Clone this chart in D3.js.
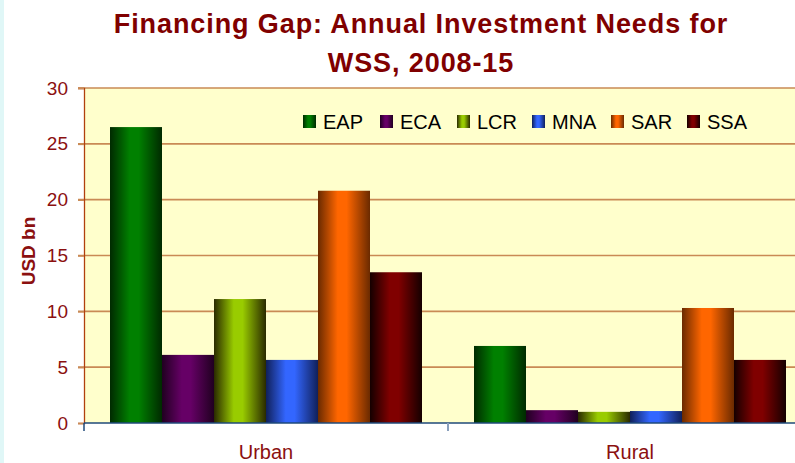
<!DOCTYPE html>
<html>
<head>
<meta charset="utf-8">
<script src="https://cdn.jsdelivr.net/npm/d3@7"></script>
<style>
  body { margin: 0; background: #ffffff; }
  svg { display: block; font-family: "Liberation Sans", Arial, sans-serif; }
</style>
</head>
<body>
<div id="chart"></div>
<script>
// categories and series
var categories = ["Urban", "Rural"];
var series = ["EAP", "ECA", "LCR", "MNA", "SAR", "SSA"];
var urbanValues = [26.5, 6.1, 11.1, 5.65, 20.8, 13.5];
var ruralValues = [6.9, 1.15, 1.0, 1.07, 10.3, 5.65];
var yTicks = [0, 5, 10, 15, 20, 25, 30];

// bar colours: [edge, centre]
var barColors = {
  EAP: ["#002a00", "#008000"],
  ECA: ["#200020", "#660066"],
  LCR: ["#2a2a00", "#99cc00"],
  MNA: ["#10205a", "#3366ff"],
  SAR: ["#6a2a00", "#ff6600"],
  SSA: ["#150000", "#800000"]
};

var rows = categories.map(function(c, i) {
  var vals = i === 0 ? urbanValues : ruralValues;
  return { cat: c, values: series.map(function(s, j) { return { key: s, value: vals[j] }; }) };
});

var svgWidth = 795, svgHeight = 463;
var margin = { top: 88, left: 84 };
var plotRight = 812; // plot runs past the window edge

var svg = d3.select("#chart").append("svg")
  .attr("width", svgWidth)
  .attr("height", svgHeight);

// gradients
var defs = svg.append("defs");
series.forEach(function(s) {
  var g = defs.append("linearGradient")
    .attr("id", "grad-" + s)
    .attr("x1", "0%").attr("x2", "100%").attr("y1", "0%").attr("y2", "0%");
  var c = barColors[s];
  g.append("stop").attr("offset", "0%").attr("stop-color", c[0]);
  g.append("stop").attr("offset", "38%").attr("stop-color", c[1]);
  g.append("stop").attr("offset", "55%").attr("stop-color", c[1]);
  g.append("stop").attr("offset", "100%").attr("stop-color", c[0]);
});

// left light strip
svg.append("rect").attr("x", 0).attr("y", 0).attr("width", 4).attr("height", svgHeight)
  .attr("fill", "#e0f7f7");

var y = d3.scaleLinear().domain([0, 30]).range([423, margin.top]);

var x0 = d3.scaleBand().domain(categories).range([margin.left, plotRight]).padding(0);
var gap = x0.bandwidth() / 7;
var x1 = d3.scaleBand().domain(series).range([gap / 2, x0.bandwidth() - gap / 2]).padding(0);

// plot background
svg.append("rect")
  .attr("x", margin.left).attr("y", y(30))
  .attr("width", plotRight - margin.left).attr("height", y(0) - y(30))
  .attr("fill", "#ffffcc");

// gridlines
svg.append("g")
  .selectAll("line")
  .data(yTicks.filter(function(t) { return t > 0; }))
  .join("line")
  .attr("x1", margin.left - 6).attr("x2", plotRight)
  .attr("y1", function(d) { return y(d); }).attr("y2", function(d) { return y(d); })
  .attr("stroke", "#c98a55")
  .attr("stroke-width", 1.6);

// bars
var groups = svg.append("g").selectAll("g")
  .data(rows)
  .join("g")
  .attr("transform", function(d) { return "translate(" + x0(d.cat) + ",0)"; });

groups.selectAll("rect")
  .data(function(d) { return d.values; })
  .join("rect")
  .attr("x", function(d) { return x1(d.key); })
  .attr("y", function(d) { return y(d.value); })
  .attr("width", x1.bandwidth())
  .attr("height", function(d) { return y(0) - y(d.value); })
  .attr("fill", function(d) { return "url(#grad-" + d.key + ")"; });

// y axis
var yAxis = svg.append("g")
  .attr("transform", "translate(" + margin.left + ",0)")
  .call(d3.axisLeft(y).tickValues(yTicks).tickSize(6).tickPadding(10));
yAxis.select(".domain").attr("stroke", "#b0400f").attr("stroke-width", 1.3);
yAxis.selectAll(".tick line").attr("stroke", "#c98a55").attr("stroke-width", 1.6);
yAxis.selectAll(".tick text")
  .attr("fill", "#8b1010")
  .style("font-size", "19px")
  .style("font-family", "'Liberation Sans', Arial, sans-serif");

// x axis
var xAxis = svg.append("g")
  .attr("transform", "translate(0," + y(0) + ")")
  .call(d3.axisBottom(x0).tickSize(0).tickPadding(19));
xAxis.select(".domain").remove();
xAxis.append("line")
  .attr("x1", margin.left).attr("x2", plotRight)
  .attr("y1", 0).attr("y2", 0)
  .attr("stroke", "#1f4a7a").attr("stroke-width", 1.5);
xAxis.append("line")
  .attr("x1", margin.left).attr("x2", margin.left)
  .attr("y1", 0).attr("y2", 8)
  .attr("stroke", "#1f4a7a").attr("stroke-width", 1.5);
xAxis.append("line")
  .attr("x1", x0("Rural")).attr("x2", x0("Rural"))
  .attr("y1", 0).attr("y2", 8)
  .attr("stroke", "#8aa0bc").attr("stroke-width", 2);
xAxis.selectAll(".tick text")
  .attr("fill", "#8b1010")
  .attr("dy", "0.85em")
  .style("font-size", "20px")
  .style("font-family", "'Liberation Sans', Arial, sans-serif");

// y axis title
svg.append("text")
  .attr("transform", "translate(35,251) rotate(-90)")
  .attr("text-anchor", "middle")
  .attr("fill", "#8b1010")
  .style("font-size", "19px")
  .style("font-weight", "bold")
  .text("USD bn");

// title
var title = svg.append("text")
  .attr("text-anchor", "middle")
  .attr("fill", "#800000")
  .style("font-size", "27px")
  .style("font-weight", "bold")
  .style("letter-spacing", "0.9px");
title.append("tspan").attr("x", 421).attr("y", 33).text("Financing Gap: Annual Investment Needs for");
title.append("tspan").attr("x", 421).attr("y", 72).text("WSS, 2008-15");

// legend
var legendX = [303, 380, 457, 532, 611, 687];
var legend = svg.append("g").selectAll("g")
  .data(series)
  .join("g")
  .attr("transform", function(d, i) { return "translate(" + legendX[i] + ",115)"; });
legend.append("rect")
  .attr("width", 13).attr("height", 13)
  .attr("fill", function(d) { return "url(#grad-" + d + ")"; });
legend.append("text")
  .attr("x", 20).attr("y", 14)
  .attr("fill", "#000")
  .style("font-size", "20px")
  .text(function(d) { return d; });
</script>
</body>
</html>
